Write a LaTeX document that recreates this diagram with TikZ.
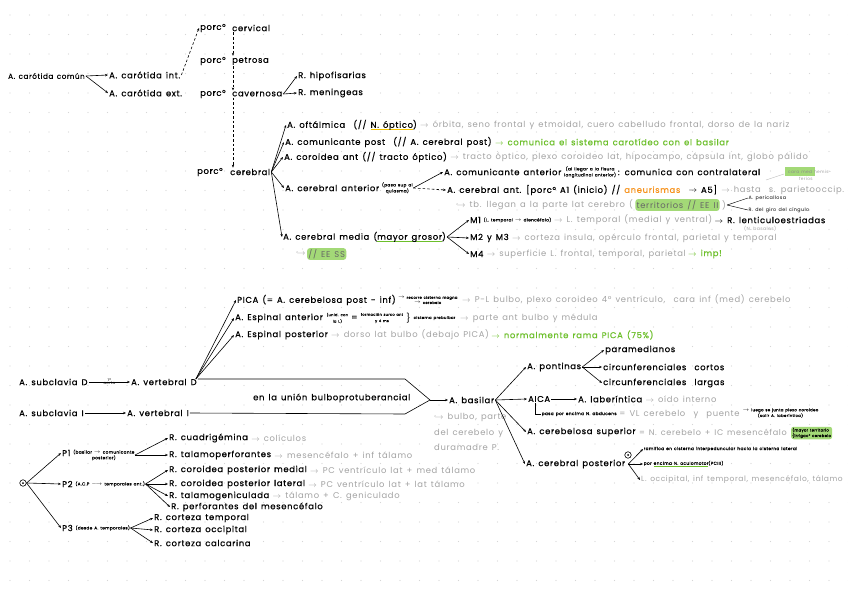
\documentclass[tikz,border=0pt]{standalone}
\usepackage{fontspec}
\setmainfont{Poppins}[LetterSpace=8, WordSpace=1.4]
\newfontfamily\blk{Poppins}[LetterSpace=8, WordSpace=1.4, RawFeature={embolden=0.6}]
\usetikzlibrary{arrows.meta}
\definecolor{gtxt}{HTML}{A3A3A3}
\definecolor{grn}{HTML}{6CBF2A}
\definecolor{hl}{HTML}{A3D977}
\definecolor{org}{HTML}{F7931E}
\definecolor{ylw}{HTML}{F2C300}
\definecolor{dotc}{HTML}{D6D6D6}
\newcommand\myul[2]{\setbox0\hbox{#2}\makebox[0pt][l]{\textcolor{#1}{\rule[-2.4pt]{\wd0}{1.1pt}}}\box0}
\tikzset{
 t/.style={anchor=west, inner sep=1pt, font=\blk\fontsize{8.4}{10}\selectfont, text=black},
 g/.style={t, font=\fontsize{8.4}{10}\selectfont, text=gtxt},
 gr/.style={t, text=grn},
 sm/.style={anchor=west, inner sep=0.5pt, font=\blk\fontsize{4.2}{4.6}\selectfont, align=center, text=black},
 hlbox/.style={t, fill=hl, rounded corners=3pt, inner sep=1.3pt},
 arr/.style={-{Stealth[length=3pt,width=2.4pt]}, line width=0.6pt},
 darr/.style={arr, dash pattern=on 2.6pt off 2pt},
 markc/.style={draw, circle, inner sep=0pt, minimum size=6.5pt, line width=0.6pt},
}
\begin{document}
\begin{tikzpicture}[x=1pt,y=-1pt]
\useasboundingbox (0,0) rectangle (848,599);
\fill[white] (0,0) rectangle (848,599);
\foreach \i in {0,...,43} {\foreach \j in {0,...,30} {\fill[dotc] (10+19.5*\i,15+19.5*\j) circle (0.55);}}

% ===== carotid =====
\node[t, font=\blk\fontsize{7.2}{9}\selectfont] (cc) at (7,76) {A. carótida común};
\node[t] (ci) at (108,75) {A. carótida int.};
\node[t] (ce) at (108,93) {A. carótida ext.};
\draw[arr] (cc.east) -- (ci.west);
\draw[arr] (cc.east) -- (ce.west);

\node[t] (pcv1) at (199,28) {porc°};
\node[t] (pcv) at (231,28) {cervical};
\node[t] (ppe1) at (199,61) {porc°};
\node[t] (ppe) at (231,61) {petrosa};
\node[t] (pca1) at (199,94) {porc°};
\node[t] (pca) at (231,94) {cavernosa};
\node[t] (pce1) at (196,172) {porc°};
\node[t] (pce) at (229,172) {cerebral};
\draw[darr] (ci.east) -- (pcv1.west);
\coordinate (d1) at ([xshift=2pt]pcv.south west);
\coordinate (d2) at ([xshift=2pt]ppe.south west);
\coordinate (d3) at ([xshift=2pt]pca.south west);
\draw[darr] (d1) -- (d1 |- ppe.north);
\draw[darr] (d2) -- (d2 |- pca.north);
\draw[darr] (d3) -- (d3 |- pce.north);

\node[t] (hip) at (297,76) {R. hipofisarias};
\node[t] (men) at (297,93) {R. meningeas};
\draw[arr] (pca.east) -- (hip.west);
\draw[arr] (pca.east) -- (men.west);

% ===== cerebral branches =====
\node[t] (oft) at (286,125) {A. oftálmica \ (// \myul{ylw}{N. óptico})};
\node[g] (oftg) at ([xshift=1pt]oft.east) {\(\to\) órbita, seno frontal y etmoidal, cuero cabelludo frontal, dorso de la nariz};
\node[t] (cpo) at (284,142) {A. comunicante post \ (// A. cerebral post)};
\node[gr] (cpog) at ([xshift=1pt]cpo.east) {\(\to\) comunica el sistema carotídeo con el basilar};
\node[t] (coa) at (283,157) {A. coroidea ant (// tracto óptico)};
\node[g] (coag) at ([xshift=1pt]coa.east) {\(\to\) tracto óptico, plexo coroideo lat, hipocampo, cápsula int, globo pálido};
\node[t] (can) at (284,188) {A. cerebral anterior};
\node[sm] (cans) at ([xshift=1pt]can.east) {(pasa sup al\\ quiasma)};
\node[t] (cme) at (282,237) {A. cerebral media (\myul{grn}{mayor grosor})};
\foreach \n in {oft,cpo,coa,can,cme} \draw[arr] (pce.east) -- (\n.west);

% ACA
\node[t] (com) at (443,172) {A. comunicante anterior};
\node[sm] (coms) at ([xshift=1pt]com.east) {(al llegar a la fisura\\ longitudinal anterior)};
\node[t] (comt) at ([xshift=0pt]coms.east) {: comunica con contralateral};
\node[t] (caa) at (446,190) {A. cerebral ant. [porc° A1 (inicio) // \textcolor{org}{aneurismas} \ \(\to\) A5]};
\node[g] (caag) at ([xshift=2pt]caa.east) {\(\to\) hasta \ s. parietooccip.};
\draw[arr] (cans.east) -- (com.west);
\draw[darr] (cans.east) -- (caa.west);
\coordinate (cl) at (766,180);
\node[anchor=west, inner sep=1pt, font=\fontsize{4.3}{4.6}\selectfont, text=gtxt, align=left] (cmh) at (784,174) {\colorbox{hl}{\rule{0pt}{3pt}\textcolor{black!45}{cara med}}\kern-1pt hemis-\\ \hspace*{14pt}ferios};
\draw[line width=0.4pt, gtxt!70] (cl) -- (cmh.west);

\node[g] (lleg) at (455,205) {\(\hookrightarrow\) tb. llegan a la parte lat cerebro (};
\node[hlbox, font=\fontsize{8.4}{10}\selectfont, text=black!60] (terr) at ([xshift=1pt]lleg.east) {territorios // EE II};
\node[g] (terrc) at ([xshift=1pt]terr.east) {)};
\node[sm, font=\fontsize{4.8}{5}\selectfont] (peri) at (748,198) {A. pericallosa};
\node[sm, font=\fontsize{4.8}{5}\selectfont] (cing) at (748,210) {R. del giro del cíngulo};
\draw[line width=0.45pt] (terrc.east) -- (peri.west);
\draw[line width=0.45pt] (terrc.east) -- (cing.west);

% MCA
\node[g, inner sep=0pt] (ees1) at (296,254) {\(\hookrightarrow\)};
\node[hlbox, font=\fontsize{8.4}{10}\selectfont, text=black!60] (ees) at ([xshift=1pt]ees1.east) {// EE SS};
\node[t] (m1) at (469,220) {M1};
\node[sm] (m1s) at ([xshift=1pt]m1.east) {(L. temporal \(\to\) diencéfalo)};
\node[g] (m1g) at ([xshift=1pt]m1s.east) {\(\to\) L. temporal (medial y ventral)};
\node[t] (m1r) at ([xshift=0pt]m1g.east) {\(\to\) R. lenticuloestriadas};
\node[sm, text=gtxt, font=\fontsize{4.6}{5}\selectfont] (nbas) at ([xshift=30pt,yshift=-4pt]m1r.south west) {(N. basales)};
\node[t] (m2) at (469,238) {M2 y M3};
\node[g] (m2g) at ([xshift=1pt]m2.east) {\(\to\) corteza insula, opérculo frontal, parietal y temporal};
\node[t] (m4) at (469,254) {M4};
\node[g] (m4g) at ([xshift=1pt]m4.east) {\(\to\) superficie L. frontal, temporal, parietal};
\node[gr] (m4i) at ([xshift=0pt]m4g.east) {\(\to\) imp!};
\foreach \n in {m1,m2,m4} \draw[arr] (cme.east) -- (\n.west);

% ===== vertebral =====
\node[t] (sd) at (18,382) {A. subclavia D};
\node[t] (vd) at (130,382) {A. vertebral D};
\draw[arr] (sd.east) -- node[above=-0.5pt, sm, anchor=south, font=\fontsize{3.8}{4}\selectfont] {1ª} node[below=-0.5pt, sm, anchor=north, font=\fontsize{3.8}{4}\selectfont] {aorta} (vd.west);
\node[t] (si) at (18,413) {A. subclavia I};
\node[t] (vi) at (126,413) {A. vertebral I};
\draw[arr] (si.east) -- (vi.west);
\coordinate (k0) at ([yshift=3pt]vd.east);
\coordinate (k1) at (405,379);
\coordinate (k2) at (405,414);
\coordinate (jn) at (430,400);
\draw[line width=0.6pt] (k0) -- (k1) -- (jn) -- (k2) -- (vi.east);
\node[t] (union) at (252,398) {en la unión bulboprotuberancial};

\node[t] (pica) at (236,300) {PICA (= A. cerebelosa post - inf)};
\node[sm, font=\blk\fontsize{3.7}{5.2}\selectfont] (picas) at ([xshift=0.5pt]pica.east) {\(\to\) recorre cisterna magna\\ \(\to\) cerebelo};
\node[g] (picag) at ([xshift=3pt]picas.east) {\(\to\) P-L bulbo, plexo coroideo 4º ventrículo, \ cara inf (med) cerebelo};
\node[t] (ea) at (234,318) {A. Espinal anterior};
\node[sm, font=\blk\fontsize{3.6}{6.4}\selectfont] (eas) at ([xshift=2pt]ea.east) {(unid. con\\ la I.)};
\node[t, inner sep=0.5pt] (eaeq) at ([xshift=2pt]eas.east) {=};
\node[sm, font=\blk\fontsize{3.6}{6.4}\selectfont] (eas2) at ([xshift=2pt]eaeq.east) {formación surco ant\\ y 4 ms};
\node[t, inner sep=0.3pt, font=\fontsize{9}{9}\selectfont] (eabr) at ([xshift=2pt]eas2.east) {\}};
\node[sm, font=\blk\fontsize{3.9}{4.2}\selectfont] (eas3) at ([xshift=2pt]eabr.east) {cisterna prebulbar};
\node[g] (eag) at ([xshift=3pt]eas3.east) {\(\to\) parte ant bulbo y médula};
\node[t] (ep) at (234,335) {A. Espinal posterior};
\node[g] (epg) at ([xshift=1pt]ep.east) {\(\to\) dorso lat bulbo (debajo PICA)};
\node[gr] (epgr) at ([xshift=0pt]epg.east) {\(\to\) normalmente rama PICA (75\%)};
\coordinate (vo) at ([xshift=-2pt,yshift=3pt]vd.east);
\foreach \n in {pica,ea,ep} \draw[arr] (vo) -- (\n.west);

% basilar
\node[t] (bas) at (448,400) {A. basilar};
\draw[arr] (jn) -- (bas.west);
\node[g, align=left, font=\fontsize{8.4}{15.5}\selectfont] (basg) at (433,432) {\(\hookrightarrow\) bulbo, parte\\ del cerebelo y\\ duramadre P.};
\node[t] (pon) at (526,367) {A. pontinas};
\node[t] (aica) at (527,399) {AICA};
\node[t] (csup) at (526,432) {A. cerebelosa superior};
\node[t] (cpos) at (525,464) {A. cerebral posterior};
\foreach \n in {pon,aica,csup,cpos} \draw[arr] (bas.east) -- (\n.west);

\node[t] (para) at (604,350) {paramedianos};
\node[t] (cco) at (602,367) {circunferenciales \ cortos};
\node[t] (cla) at (602,383) {circunferenciales \ largas};
\foreach \n in {para,cco,cla} \draw[arr] (pon.east) -- (\n.west);

\node[t] (lab) at (577,399) {A. laberíntica};
\draw[arr] (aica.east) -- (lab.west);
\node[g] (labg) at ([xshift=1pt]lab.east) {\(\to\) oído interno};
\node[sm, font=\blk\fontsize{4.3}{4.6}\selectfont] (abd) at (541,414) {pasa por encima N. abducens};
\draw[line width=0.5pt] ([xshift=8pt]aica.south west) |- (abd.west);
\node[g] (abdg) at ([xshift=1pt]abd.east) {= VL cerebelo \ y \ puente};
\node[sm, font=\blk\fontsize{3.9}{4.2}\selectfont] (abds) at ([xshift=1pt,yshift=1pt]abdg.east) {\(\to\) luego se junta plexo coroideo\\ (salir A. laberíntica)};

\node[g, font=\fontsize{8.1}{10}\selectfont] (csg) at ([xshift=1pt]csup.east) {= N. cerebelo + IC mesencéfalo};
\node[sm, fill=hl, rounded corners=2.5pt, inner sep=1.2pt, align=left, font=\blk\fontsize{3.8}{4.1}\selectfont] (csh) at ([xshift=3pt,yshift=-1pt]csg.east) {\{mayor territorio\\ \{irrigac° cerebelo};

\node[markc] (mk2) at (628,455) {};
\fill (mk2) circle (1pt);
\node[sm, font=\blk\fontsize{4.3}{4.6}\selectfont] (ram) at (643,449) {ramifica en cisterna interpeduncular hacia la cisterna lateral};
\node[sm, font=\blk\fontsize{4.3}{4.6}\selectfont] (oculo) at (643,464) {por \myul{grn}{encima N. oculomotor} (PCIII)};
\node[g, font=\fontsize{7.5}{9}\selectfont] (occ) at (640,480) {L. occipital, inf temporal, mesencéfalo, tálamo};
\coordinate (cpo2) at ([xshift=2pt]cpos.east);
\foreach \n in {ram,oculo,occ} \draw[arr] (cpo2) -- (\n.west);

% ===== P segments =====
\node[markc] (mk) at (23,483) {};
\fill (mk) circle (1pt);
\node[t] (p1) at (61,453) {P1};
\node[sm] (p1s) at ([xshift=1pt,yshift=-2pt]p1.east) {(basilar \(\to\) comunicante\\ posterior)};
\node[t] (p2) at (61,484) {P2};
\node[sm] (p2s) at ([xshift=1pt]p2.east) {(A.C.P \(\longrightarrow\) temporales ant.)};
\node[t] (p3) at (61,528) {P3};
\node[sm] (p3s) at ([xshift=1pt]p3.east) {(desde A. temporales)};
\foreach \n in {p1,p2,p3} \draw[arr] (mk.east) -- (\n.west);

\node[t] (cua) at (168,438) {R. cuadrigémina};
\node[g] (cuag) at ([xshift=1pt]cua.east) {\(\to\) colículos};
\node[t] (tal) at (168,455) {R. talamoperforantes};
\node[g] (talg) at ([xshift=1pt]tal.east) {\(\to\) mesencéfalo + inf tálamo};
\foreach \n in {cua,tal} \draw[arr] (p1s.east) -- (\n.west);

\node[t] (cpm) at (168,470) {R. coroidea posterior medial};
\node[g] (cpmg) at ([xshift=1pt]cpm.east) {\(\to\) PC ventrículo lat + med tálamo};
\node[t] (cpl) at (168,484) {R. coroidea posterior lateral};
\node[g] (cplg) at ([xshift=1pt]cpl.east) {\(\to\) PC ventrículo lat + lat tálamo};
\node[t] (tgen) at (168,496) {R. talamogeniculada};
\node[g] (tgeng) at ([xshift=1pt]tgen.east) {\(\to\) tálamo + C. geniculado};
\node[t] (pmes) at (170,507) {R. perforantes del mesencéfalo};
\foreach \n in {cpm,cpl,tgen,pmes} \draw[arr] (p2s.east) -- (\n.west);

\node[t] (ctem) at (153,518) {R. corteza temporal};
\node[t] (cocc) at (153,530) {R. corteza occipital};
\node[t] (ccal) at (153,543) {R. corteza calcarina};
\foreach \n in {ctem,cocc,ccal} \draw[arr] (p3s.east) -- (\n.west);
\end{tikzpicture}
\end{document}
